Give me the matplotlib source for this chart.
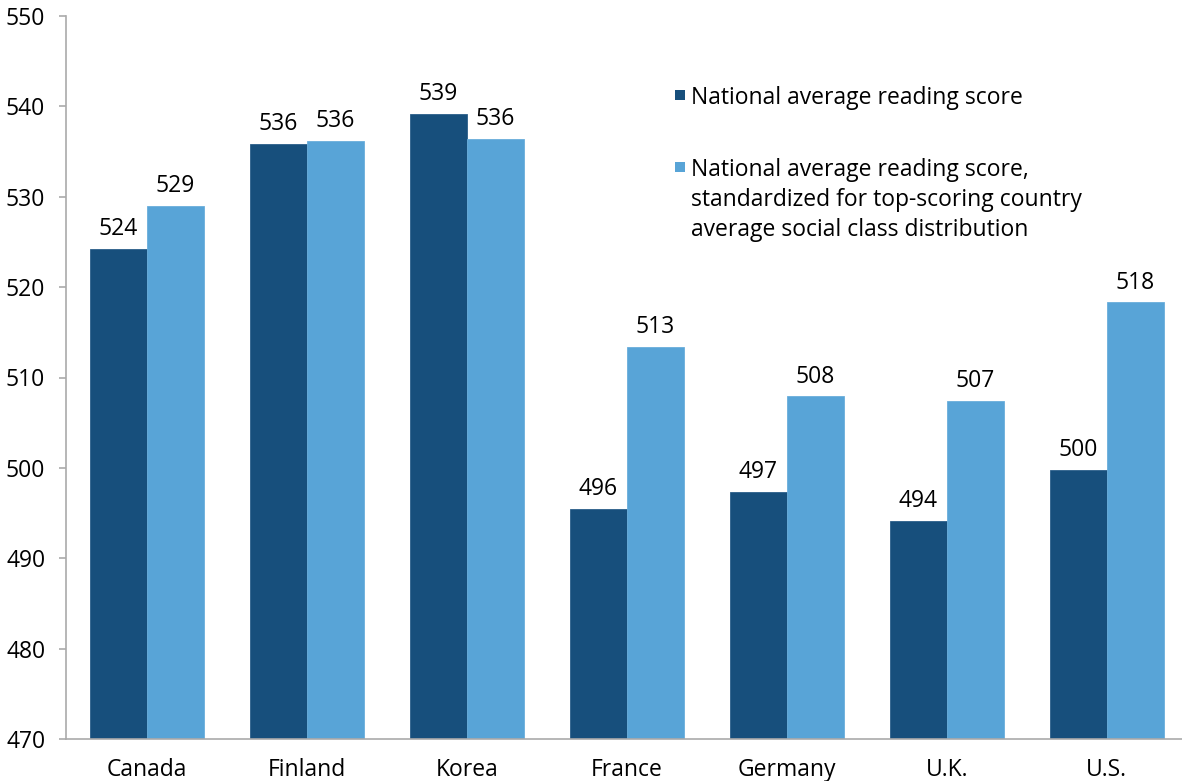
import numpy as np
import matplotlib
matplotlib.use('Agg')
import matplotlib.pyplot as plt
from matplotlib.patches import Rectangle

plt.rcParams['font.family'] = ['Open Sans', 'DejaVu Sans']

# data
countries = ['Canada', 'Finland', 'Korea', 'France', 'Germany', 'U.K.', 'U.S.']
national = [524.2, 535.8, 539.2, 495.5, 497.3, 494.1, 499.8]
standardized = [529.0, 536.2, 536.4, 513.4, 507.9, 507.4, 518.3]
national_lbl = ['524', '536', '539', '496', '497', '494', '500']
standardized_lbl = ['529', '536', '536', '513', '508', '507', '518']
yticks = [470, 480, 490, 500, 510, 520, 530, 540, 550]
legend_labels = ['National average reading score',
                 'National average reading score,\nstandardized for top-scoring country\naverage social class distribution']

dark = '#174f7c'
light = '#58a4d7'
fs = 16.5

fig = plt.figure(figsize=(11.82, 7.81), dpi=100)
ax = fig.add_axes([66/1182, 1 - 739/781, 1 - 66/1182, (739 - 16)/781])

x = np.arange(len(countries))
w = 0.356
ax.bar(x - w/2, national, w, color=dark, edgecolor='#2b5f8a', linewidth=0.6, zorder=2)
ax.bar(x + w/2, standardized, w, color=light, edgecolor='#6aaedb', linewidth=0.6, zorder=2)

for xi, v, s in zip(x - w/2, national, national_lbl):
    ax.annotate(s, (xi, v), xytext=(0, 10), textcoords='offset points',
                ha='center', va='baseline', fontsize=fs, color='black')
for xi, v, s in zip(x + w/2, standardized, standardized_lbl):
    ax.annotate(s, (xi, v), xytext=(0, 10), textcoords='offset points',
                ha='center', va='baseline', fontsize=fs, color='black')

ax.set_ylim(470, 550)
ax.set_xlim(-0.506, 6.47)
ax.set_yticks(yticks)
ax.set_yticklabels([str(t) for t in yticks], fontsize=fs)
ax.set_xticks(x)
ax.set_xticklabels(countries, fontsize=fs)

for side in ['top', 'right']:
    ax.spines[side].set_visible(False)
for side in ['left', 'bottom']:
    ax.spines[side].set_color('#aaaaaa')
    ax.spines[side].set_linewidth(1.2)
ax.tick_params(axis='y', length=5, width=1.2, color='#aaaaaa', pad=10)
ax.tick_params(axis='x', length=0, pad=14)

# legend drawn by hand (square marker sits at top of text)
leg_x = 691 / 1182
leg_y = [86, 158]
cols = [dark, light]
for yy, lab, c in zip(leg_y, legend_labels, cols):
    fig.text(leg_x, 1 - yy/781, lab, fontsize=fs, ha='left', va='top', linespacing=1.32)
    sq = Rectangle((675/1182, 1 - (yy + 14)/781), 10/1182, 10/781,
                   transform=fig.transFigure, facecolor=c, edgecolor='none', clip_on=False)
    ax.add_patch(sq)

plt.savefig('out.png', dpi=100)
plt.close()
